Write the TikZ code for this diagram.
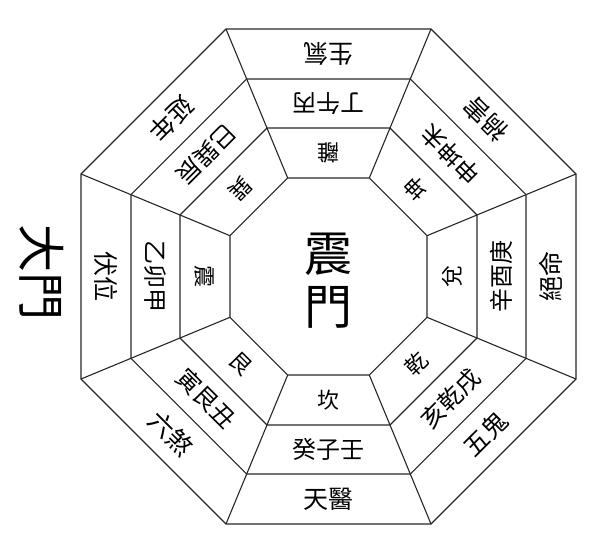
\documentclass[tikz,border=0pt]{standalone}
\usepackage{fontspec}
\setmainfont{Noto Sans CJK TC}
\begin{document}
\begin{tikzpicture}[x=1pt, y=1pt, line width=1.1pt, draw=black!85,
  gua/.style={font=\fontsize{22}{22}\selectfont, inner sep=0pt},
  zhi/.style={font=\fontsize{24}{24}\selectfont, inner sep=0pt},
  xing/.style={font=\fontsize{25}{25}\selectfont, inner sep=0pt}]
\useasboundingbox (-328.5,-281.5) rectangle (271.5,276.5);
\foreach \a in {98.5,148.5,197.5,247.5}
  \draw (22.5:{\a/cos(22.5)}) \foreach \k in {1,...,7}{ -- (22.5+45*\k:{\a/cos(22.5)})} -- cycle;
\foreach \k in {0,...,7}
  \draw (22.5+45*\k:{98.5/cos(22.5)}) -- (22.5+45*\k:{247.5/cos(22.5)});
\foreach \ang/\g/\z/\x [count=\i] in {90/離/丁午丙/生氣, 45/坤/申坤未/禍害, 0/兌/辛酉庚/絕命, -45/乾/亥乾戌/五鬼,
    -90/坎/癸子壬/天醫, -135/艮/寅艮丑/六煞, 180/震/乙卯甲/伏位, 135/巽/巳巽辰/延年}{
  \node[gua, rotate=\ang+90] (gua\i) at (\ang:124) {\g};
  \node[zhi, rotate=\ang+90] (zhi\i) at (\ang:173) {\z};
  \node[xing, rotate=\ang+90] (xing\i) at (\ang:222.5) {\x};
}
\node[align=center, font=\fontsize{48}{53}\selectfont, inner sep=0pt] (men) at (0,-4) {震\\門};
\node[rotate=-90, font=\fontsize{48}{48}\selectfont, inner sep=0pt] (damen) at (-286.5,4.5) {大門};
\end{tikzpicture}
\end{document}
